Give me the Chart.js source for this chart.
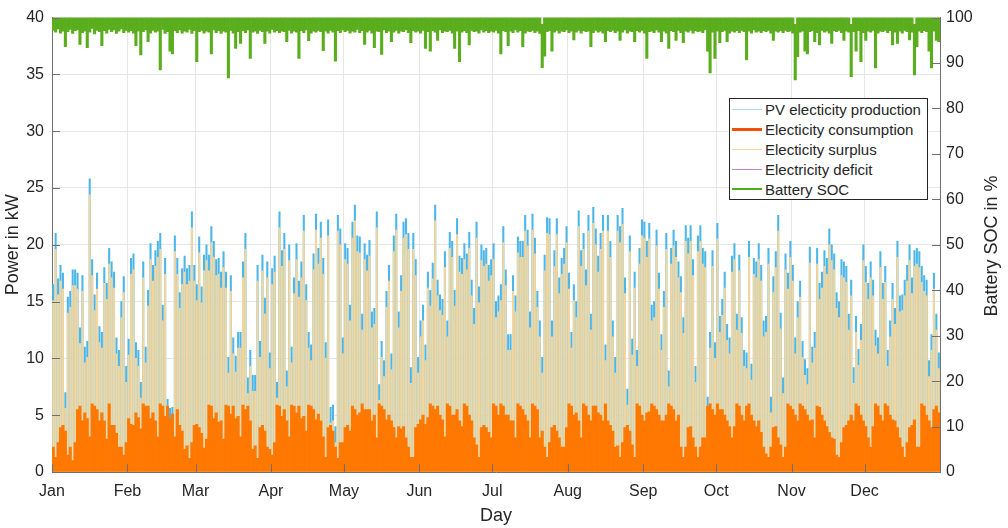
<!DOCTYPE html>
<html>
<head>
<meta charset="utf-8">
<script src="https://cdn.jsdelivr.net/npm/chart.js@4.4.0/dist/chart.umd.min.js"></script>
<style>
    html, body { margin: 0; padding: 0; background: #fff; }
    #wrap { position: relative; width: 1008px; height: 528px; }
    #legend {
        position: absolute; left: 729px; top: 98px; width: 199px; height: 102px;
        border: 1px solid #262626; background: #fff; box-sizing: border-box; padding-top: 1px;
        font: 15px "Liberation Sans", Arial, sans-serif; color: #262626;
    }
    .row { height: 19.8px; display: flex; align-items: center; white-space: nowrap; }
    .sw { width: 30px; margin: 0 3px 0 2px; }
</style>
</head>
<body>
<div id="wrap">
    <canvas id="chart" width="1008" height="528"></canvas>
    <div id="legend">
        <div class="row"><span class="sw" style="border-top:1px solid #a6d8f2"></span>PV electicity production</div>
        <div class="row"><span class="sw" style="border-top:3px solid #f0500a"></span>Electicity consumption</div>
        <div class="row"><span class="sw" style="border-top:1px solid #f6d9a0"></span>Electicity surplus</div>
        <div class="row"><span class="sw" style="border-top:1px solid #c088c8"></span>Electricity deficit</div>
        <div class="row"><span class="sw" style="border-top:2px solid #4daf18"></span>Battery SOC</div>
    </div>
</div>
<script>
const monthNames = ['Jan', 'Feb', 'Mar', 'Apr', 'May', 'Jun', 'Jul', 'Aug', 'Sep', 'Oct', 'Nov', 'Dec'];
const monthStarts = [0, 31, 59, 90, 120, 151, 181, 212, 243, 273, 304, 334];

// daily peak of PV production (kW)
const pvPeak = [
    16.5,21,17,18.2,17.5,7,15.4,15.9,17.8,17.8, 17.5,12.7,17.3,11,11.5,25.8,18.7,15.6,17.5,12.8,
    12.3,18,16.6,19.7,18.5,17.6,11.8,10.7,15,17.2, 9.3,11.7,18.8,19.2,11.4,10.7,7.9,18.5,11,16,
    20.1,18.2,19.5,20.3,21,14.7,18.8,6.4,5.6,5.7, 20.8,18.8,15.8,17.9,19,17.9,18.2,22.9,18.2,16.5,
    20.7,
    16.3,19.1,20,19.1,21.6,20.3,18.7,18.8,17.6,19.4, 17.6,10.1,17.3,11.8,10.2,12.3,12.3,18.5,21,8.3,
    10.7,8.5,8.5,18.2,11.5,19.1,15.3,18.5,10.5,17.9, 19,7.9,22.9,19.5,21,8.9,20,11,17.1,20.1,
    16.8,18.5,22.6,16.5,12.3,11.2,19.2,22.7,19.7,22, 18.8,11.4,22.2,5.7,5.9,4,22.6,21.4,11.8,20.1,
    19.7,14.7,
    22,23.5,20.8,20.7,13.9,20.1,19.1,20.4,14.1,14.4, 22.9,7.7,11.5,9.8,15.9,18.2,10.4,20.8,22.7,14.1,
    17.3,22,22.3,21,9.2,21,18.7,10.1,13.3,14.7, 11.2,17.6,16,18.4,23.5,16.9,15.6,15.2,19.4,13.3,
    21.1,20.3,16,22.3,19,18.8,20.1,19.2,21.1,16.9, 14.4,22,16.3,20,19.5,19.7,18.2,18.7,20.1,15,
    15.5,
    16.5,21.6,17.8,12.1,12.1,17.3,15.5,20.7,20.3,20.3, 22.6,21.3,14.1,22.7,20.6,15.9,13.3,10.1,19.1,22.4,
    22.3,13.3,19.5,22.3,17.1,18.8,19.7,21.6,17.5,12.3, 16.5,15,23,19.5,21,17.8,22.6,13.9,23.3,21.4,
    19,21,22.6,11.2,22.6,20.3,13.3,10.1,22.6,21.6, 23.2,17.1,7.3,20.8,11.7,17.6,10.7,19.7,22.2,22,
    20.3,21.9,
    14.7,15,21.3,17.5,12.1,15.9,21,8.9,19.7,21.3, 20.3,18.5,17.2,13.6,21.7,20.6,21.7,18.7,9.3,20.8,
    21.7,19.7,19.4,6.6,12.3,19.5,11.4,21.9,13.7,15.2, 17.6,13,11.8,19,20.1,13.9,19.1,13.6,10.7,10.5,
    20.3,9.5,18.8,18.5,20.1,18.2,13.3,13.7,19.7,6.6, 17.2,19.4,22.6,14,8.3,19.2,17.5,20.3,18.2,11.8,
    15,
    16.8,11.5,9.9,9.1,19.8,11,12.3,19.7,16.6,17.6, 19.5,18.8,21.4,20,19.2,15.8,15,18.7,18.5,18.1,
    13.9,16.9,9.2,13.7,10.8,13,20,18.1,16.6,18.5, 16.9,12.5,11.8,19.4,16.6,18.1,10.7,13.3,16.6,14.4,
    20.3,15.5,15.6,16.9,18.2,20,17.1,19.5,19.7,19.4, 18.1,17.3,16.9,9.8,12.1,17.5,13.9,10.5
];

// daily peak of consumption (kW)
const consumptionPeak = [
    2.2,1.3,2.6,3.9,4.1,3.6,1.5,2.2,1.0,2.6, 5.5,5.8,4.5,5.2,4.7,3.1,6,5.8,5.5,4.5,
    5.2,4.5,2.9,6,4.1,4.1,3.4,2.2,2.2,1.5, 2.6,4.7,4.2,4.1,5.2,4.8,3.8,6,5.8,5.8,
    4.7,5.2,4.5,3.1,6,5.8,4.9,5.8,4.7,5.1, 3.1,5.5,4.1,3.6,2,2.3,1.2,2.6,4.1,4.2,
    3.9,
    3.4,2.1,2.9,5.9,5.8,4.7,5.2,4.4,4.5,2.9, 5.9,5.8,5.1,5.8,4.7,4.9,3.1,5.9,5.5,5.8,
    4.5,2.0,2.3,1.2,3.9,4.1,3.6,2.2,2.0,1.5, 2.6,5.9,5.8,4.9,5.5,4.5,3.1,5.9,5.8,5.2,
    5.8,4.7,4.9,3.6,5.9,5.8,5.5,4.6,5.1,4.5, 3.1,1.3,3.9,4.1,3.6,2.2,1.2,2.6,2.6,3.9,
    4.1,3.6,
    5.8,5.5,5.0,5.2,6.0,5.5,5.5,5.5,4.5,5.0, 3.0,6.0,5.8,5.5,4.6,5.0,4.5,3.9,3.0,4.0,
    3.8,4.0,3.0,2.2,1.3,1.3,3.9,4.2,4.6,5.0, 4.2,4.8,6.0,5.8,5.5,5.8,5.0,4.6,3.1,6.0,
    5.8,5.0,5.0,5.5,4.5,4.0,6.0,5.8,5.0,4.5, 3.0,2.4,1.3,3.9,4.1,3.9,3.5,3.0,6.0,5.8,
    5.0,
    6.0,5.8,5.0,5.0,4.5,4.5,3.0,6.0,5.8,5.5, 5.0,4.5,3.0,6.0,5.8,5.5,3.0,3.6,2.2,1.3,
    2.6,3.9,4.1,3.6,3.0,2.2,2.2,3.9,6.0,5.8, 5.0,5.2,4.5,3.0,6.0,5.8,5.0,4.5,5.8,5.8,
    5.2,5.0,4.5,6.0,4.5,4.1,3.6,2.2,2.3,1.3, 2.6,3.9,4.1,3.6,2.4,1.3,6.0,5.8,5.0,4.5,
    5.2,5.3,
    6.0,5.8,5.5,5.0,4.5,4.5,5.0,6.0,5.8,5.5, 4.5,5.0,2.2,1.3,2.2,3.9,4.0,3.0,2.2,1.3,
    2.2,3.0,3.0,5.8,6.0,5.5,5.0,6.0,5.5,5.5, 5.0,4.5,4.0,3.0,4.0,6.0,5.8,5.0,4.5,5.8,
    6.0,5.0,4.5,4.0,4.5,3.5,2.2,1.6,1.3,2.2, 3.9,4.0,3.0,2.4,1.3,2.2,6.0,5.8,5.5,5.0,
    4.5,
    6.0,5.8,5.5,5.0,4.5,4.6,3.0,5.8,5.7,5.0, 4.5,4.0,3.5,3.0,2.9,1.5,1.3,2.6,3.9,4.1,
    4.5,5.0,4.5,6.0,5.8,5.0,4.5,4.0,3.0,2.2, 4.0,6.0,5.8,5.0,4.5,6.0,5.8,5.0,4.6,4.5,
    3.9,3.0,2.2,1.3,2.6,3.9,4.1,4.6,2.2,2.2, 6.0,5.8,5.0,4.5,3.9,5.5,5.8,5.2
];

// daily minimum of battery SOC (%)
const socMin = [
    97.2,96.8,97.5,96.6,97.0,93.6,96.9,97.4,96.5,97.1, 97.3,94.1,96.7,97.0,93.4,96.8,97.6,96.4,97.2,96.9,
    93.8,97.1,96.6,97.4,96.9,97.3,96.5,97.0,97.5,96.7, 97.2,96.8,97.1,96.6,93.8,97.0,91.8,96.9,97.3,94.7,
    96.6,97.2,96.8,97.0,88.5,97.4,96.5,96.9,92.6,92.0, 97.1,96.7,97.3,96.6,97.0,96.8,97.4,96.5,97.1,90.3,
    96.9,97.2,96.6,97.0,96.8,92.0,97.3,96.7,97.1,96.5, 97.0,96.8,86.7,97.2,96.6,93.2,96.9,94.3,97.1,96.7,
    97.3,91.0,96.8,97.0,96.5,97.2,96.9,94.3,97.0,96.6, 97.4,96.8,97.1,96.7,97.0,96.9,94.7,97.2,96.6,97.0,
    96.8,91.0,97.1,96.7,97.3,94.9,96.6,97.0,96.8,97.2, 96.9,92.7,97.0,96.6,97.2,96.8,90.4,97.1,96.7,97.3,
    96.9,97.2,96.6,97.0,96.8,97.4,96.7,97.1,94.1,96.8, 97.2,96.6,93.4,97.0,96.9,91.9,97.3,96.7,97.0,94.7,
    96.8,97.2,96.6,97.0,96.9,97.3,96.7,94.5,97.1,96.8, 97.0,96.6,97.2,93.2,96.9,92.6,97.1,96.8,95.0,97.3,
    96.7,97.0,96.9,97.2,96.6,93.2,97.0,90.3,96.8,97.1, 96.7,94.0,97.2,96.9,97.0,96.6,97.3,96.8,97.1,96.7,
    97.0,96.8,97.2,96.6,92.0,97.1,96.9,93.8,97.0,96.7, 97.3,96.8,97.1,93.6,96.6,97.0,96.9,97.2,96.7,97.0,
    96.5,89.0,91.5,96.9,97.1,92.6,96.8,97.2,96.6,97.0, 96.9,97.3,96.7,97.0,95.1,96.8,97.2,96.6,97.1,96.9,
    97.0,93.6,96.7,97.2,96.8,97.0,96.6,94.7,97.1,96.9, 97.2,96.7,97.0,95.0,96.8,97.3,96.6,97.0,96.9,94.7,
    97.1,96.8,97.2,96.6,91.0,96.9,97.0,96.7,97.3,96.8, 94.7,97.0,96.6,93.2,97.1,96.9,95.0,97.2,96.7,94.5,
    97.0,96.8,97.2,96.6,97.1,96.9,97.0,96.7,97.3,92.6, 87.8,96.8,91.0,97.0,94.5,96.9,97.2,94.7,96.6,97.0,
    96.8,97.1,96.7,97.2,96.9,90.7,97.0,96.6,97.3,96.8, 97.0,96.7,97.1,96.9,97.2,96.6,95.0,97.0,96.8,97.1,
    96.7,97.2,96.9,97.0,96.6,86.3,91.4,96.8,97.0,92.6, 92.0,96.9,97.1,94.7,96.7,94.0,97.2,96.8,97.0,96.6,
    94.3,97.1,96.9,97.2,96.7,95.0,97.0,96.8,87.0,96.9, 92.6,97.1,90.3,96.7,95.0,97.0,96.8,97.2,88.9,96.6,
    97.0,96.9,97.2,96.7,97.1,94.0,96.8,94.3,97.0,96.6, 97.2,96.9,95.1,96.8,87.4,93.6,97.0,96.7,97.1,96.9,
    92.6,88.9,97.0,95.0,94.7
];

// days on which the battery never got back to full charge
const socNotFullDays = [201, 305, 328, 354];
const socNotFullMax = [98.5, 98.5, 98.5, 98.5];

// load still running at the PV peak hour, used for the surplus
const middayLoad = 1.4;

const axisColor = '#262626';
const axisLineColor = '#707070';
const gridColor = '#e6e6e6';
Chart.defaults.font.family = '"Liberation Sans", Arial, sans-serif';
Chart.defaults.color = axisColor;

const dayX = pvPeak.map((_, i) => i + 0.5);

function socMax(i) {
    const k = socNotFullDays.indexOf(i);
    return k >= 0 ? socNotFullMax[k] : 100;
}

// Matlab style: ticks point into the plot, right label reads bottom-up
const axisExtras = {
    id: 'axisExtras',
    afterDraw(chart) {
        const { ctx, chartArea: a, scales } = chart;
        ctx.save();
        ctx.strokeStyle = axisLineColor;
        ctx.lineWidth = 1;
        ctx.beginPath();
        scales.y.ticks.forEach(t => {
            const py = Math.round(scales.y.getPixelForValue(t.value)) + 0.5;
            ctx.moveTo(a.left, py);
            ctx.lineTo(a.left + 8, py);
        });
        scales.y2.ticks.forEach(t => {
            const py = Math.round(scales.y2.getPixelForValue(t.value)) + 0.5;
            ctx.moveTo(a.right, py);
            ctx.lineTo(a.right - 8, py);
        });
        scales.x.ticks.forEach(t => {
            const px = Math.round(scales.x.getPixelForValue(t.value)) + 0.5;
            ctx.moveTo(px, a.bottom);
            ctx.lineTo(px, a.bottom - 8);
        });
        ctx.stroke();

        ctx.translate(992, 246);
        ctx.rotate(-Math.PI / 2);
        ctx.fillStyle = axisColor;
        ctx.font = '18px "Liberation Sans", Arial, sans-serif';
        ctx.textAlign = 'center';
        ctx.textBaseline = 'middle';
        ctx.fillText('Battery SOC in %', 0, 0);
        ctx.restore();
    }
};

const ctx = document.getElementById('chart').getContext('2d');
new Chart(ctx, {
    type: 'bar',
    data: {
        datasets: [
            {
                label: 'Battery SOC',
                yAxisID: 'y2',
                data: dayX.map((x, i) => ({ x: x, y: [socMin[i], socMax(i)] })),
                backgroundColor: '#5aae1e',
                barPercentage: 1,
                categoryPercentage: 1,
                order: 1
            },
            {
                label: 'Electicity consumption',
                yAxisID: 'y',
                data: dayX.map((x, i) => ({ x: x, y: consumptionPeak[i] })),
                backgroundColor: '#ff7800',
                barPercentage: 1,
                categoryPercentage: 1,
                order: 2
            },
            {
                label: 'Electicity surplus',
                yAxisID: 'y',
                data: dayX.map((x, i) => ({ x: x, y: Math.max(0, pvPeak[i] - middayLoad) })),
                backgroundColor: '#f1d79f',
                barThickness: 1.4,
                order: 3
            },
            {
                label: 'PV electicity production',
                yAxisID: 'y',
                data: dayX.map((x, i) => ({ x: x, y: pvPeak[i] })),
                backgroundColor: '#4cb6e8',
                barThickness: 1.4,
                order: 4
            }
        ]
    },
    options: {
        responsive: false,
        animation: false,
        devicePixelRatio: 1,
        layout: { padding: { top: 14, left: 0, right: 0, bottom: 0 } },
        datasets: { bar: { grouped: false, borderWidth: 0 } },
        plugins: {
            legend: { display: false },
            tooltip: { enabled: false }
        },
        scales: {
            x: {
                type: 'linear',
                offset: false,
                min: 0,
                max: 365,
                afterBuildTicks: scale => { scale.ticks = monthStarts.map(v => ({ value: v })); },
                afterFit: scale => { scale.height = 56; },
                ticks: {
                    autoSkip: false,
                    maxRotation: 0,
                    padding: 10,
                    font: { size: 16 },
                    callback: value => monthNames[monthStarts.indexOf(value)]
                },
                grid: { color: gridColor, drawTicks: false, offset: false },
                border: { color: axisLineColor },
                title: { display: true, text: 'Day', font: { size: 18 }, padding: { top: 0, bottom: 1 } }
            },
            y: {
                position: 'left',
                min: 0,
                max: 40,
                afterFit: scale => { scale.width = 52; },
                ticks: { stepSize: 5, padding: 8, font: { size: 16 } },
                grid: { color: gridColor, drawTicks: false },
                border: { color: axisLineColor },
                title: { display: true, text: 'Power in kW', font: { size: 18 }, padding: { top: 2, bottom: 0 } }
            },
            y2: {
                position: 'right',
                min: 0,
                max: 100,
                afterFit: scale => { scale.width = 68; },
                ticks: { stepSize: 10, padding: 6, font: { size: 16 } },
                grid: { drawOnChartArea: false, drawTicks: false },
                border: { color: axisLineColor },
                title: { display: false }
            }
        }
    },
    plugins: [axisExtras]
});
</script>
</body>
</html>
